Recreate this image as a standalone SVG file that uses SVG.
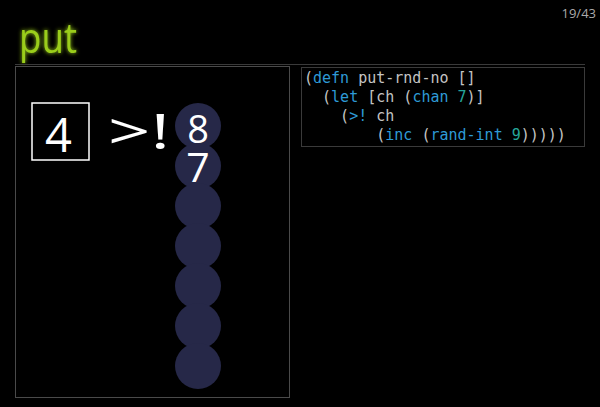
<svg xmlns="http://www.w3.org/2000/svg" width="600" height="407" viewBox="0 0 600 407">
<defs>
<style>
.code{font-family:"DejaVu Sans Mono",monospace;font-size:15px;fill:#c4c4c4;white-space:pre}
.kw{fill:#2e9ad6}
.num{fill:#26a69a}
.big{font-family:"Open Sans","DejaVu Sans",sans-serif;fill:#ffffff}
.slot{fill:#262848}
</style>
<filter id="glow" x="-20%" y="-30%" width="140%" height="160%">
<feGaussianBlur in="SourceGraphic" stdDeviation="2" result="b"/>
<feMerge><feMergeNode in="b"/><feMergeNode in="SourceGraphic"/></feMerge>
</filter>
</defs>
<rect x="0" y="0" width="600" height="407" fill="#000000"/>
<text x="596" y="18" text-anchor="end" font-family="'Open Sans','DejaVu Sans',sans-serif" font-size="13" fill="#aaaaaa">19/43</text>
<text x="19" y="53" font-family="'Open Sans','DejaVu Sans',sans-serif" font-size="42" fill="#9acd1a" filter="url(#glow)" textLength="58" lengthAdjust="spacingAndGlyphs">put</text>
<line x1="15" y1="64.5" x2="585" y2="64.5" stroke="#3a3a3a" stroke-width="1"/>
<g id="panel">
<rect x="15.5" y="66.5" width="274" height="331" fill="none" stroke="#4a4a4a" stroke-width="1"/>
</g>
<g id="code">
<rect x="301.5" y="67.5" width="283" height="79" fill="none" stroke="#3a3a3a" stroke-width="1"/>
<text class="code" x="304" y="83">(<tspan class="kw">defn</tspan> put-rnd-no []</text>
<text class="code" x="304" y="102">  (<tspan class="kw">let</tspan> [ch (<tspan class="kw">chan</tspan> <tspan class="num">7</tspan>)]</text>
<text class="code" x="304" y="121">    (<tspan class="kw">&gt;!</tspan> ch</text>
<text class="code" x="304" y="140">        (<tspan class="kw">inc</tspan> (<tspan class="kw">rand-int</tspan> <tspan class="num">9</tspan>)))))</text>
</g>
<g id="value">
<rect x="32" y="103" width="57" height="57" fill="none" stroke="#ffffff" stroke-width="1.5"/>
<text class="big" x="58.5" y="152" text-anchor="middle" font-size="47">4</text>
</g>
<g id="op">
<text class="big" x="108" y="149" font-size="49" textLength="62" lengthAdjust="spacingAndGlyphs">&gt;!</text>
</g>
<g id="channel">
<circle class="slot" cx="198" cy="126" r="23"/>
<circle class="slot" cx="198" cy="166" r="23"/>
<circle class="slot" cx="198" cy="206" r="23"/>
<circle class="slot" cx="198" cy="246" r="23"/>
<circle class="slot" cx="198" cy="286" r="23"/>
<circle class="slot" cx="198" cy="326" r="23"/>
<circle class="slot" cx="198" cy="366" r="23"/>
<text class="big" x="198" y="143" text-anchor="middle" font-size="38">8</text>
<text class="big" x="198" y="182" text-anchor="middle" font-size="41">7</text>
</g>
</svg>
